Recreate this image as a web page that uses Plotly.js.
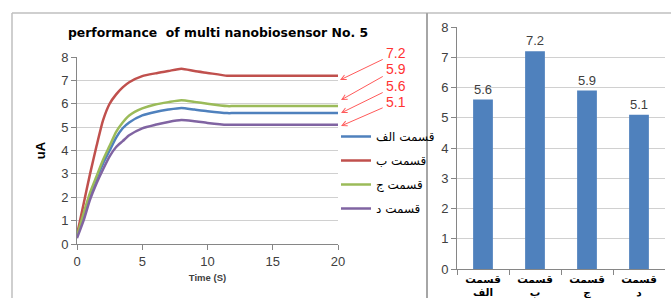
<!DOCTYPE html>
<html><head><meta charset="utf-8">
<script src="https://cdn.plot.ly/plotly-3.0.1.min.js"></script>
<style>html,body{margin:0;padding:0;background:#fff}#c{width:671px;height:298px}</style>
</head><body><div id="c"></div>
<script>
// ---- data ----
const chartTitle = 'performance  of multi nanobiosensor No. 5';
const seriesNames = ['قسمت الف', 'قسمت ب', 'قسمت ج', 'قسمت د'];
const barLabels = ['قسمت<br>الف', 'قسمت<br>ب', 'قسمت<br>ج', 'قسمت<br>د'];
const time = [0, 0.5, 1, 1.5, 2, 2.5, 3, 3.5, 4, 5, 6, 7, 8, 9, 10, 11.5, 12, 14, 16, 18, 20];
const seriesA = [0.35, 1.25, 2.1, 2.8, 3.45, 4.0, 4.55, 4.95, 5.2, 5.5, 5.65, 5.75, 5.82, 5.75, 5.68, 5.6, 5.6, 5.6, 5.6, 5.6, 5.6];
const seriesB = [0.4, 1.7, 3.0, 4.2, 5.3, 6.0, 6.4, 6.7, 6.92, 7.18, 7.3, 7.4, 7.5, 7.4, 7.32, 7.2, 7.2, 7.2, 7.2, 7.2, 7.2];
const seriesC = [0.35, 1.3, 2.2, 2.9, 3.6, 4.2, 4.8, 5.2, 5.5, 5.8, 5.97, 6.07, 6.15, 6.08, 6.0, 5.9, 5.9, 5.9, 5.9, 5.9, 5.9];
const seriesD = [0.25, 1.0, 1.9, 2.6, 3.2, 3.75, 4.15, 4.4, 4.65, 4.95, 5.1, 5.22, 5.3, 5.25, 5.18, 5.1, 5.1, 5.1, 5.1, 5.1, 5.1];
const finalValues = [5.6, 7.2, 5.9, 5.1];
const annotOrder = [1, 2, 0, 3]; // 7.2, 5.9, 5.6, 5.1 from top
// ---- styling ----
const W = 671, H = 298;
const px = v => v / W, py = v => 1 - v / H;
const colors = ['#4F81BD', '#C0504D', '#9BBB59', '#8064A2'];
const allSeries = [seriesA, seriesB, seriesC, seriesD];
const font = 'Liberation Sans, Arial, sans-serif';
const arFont = 'DejaVu Sans, sans-serif';

const traces = allSeries.map((s, i) => ({
  type: 'scatter', mode: 'lines', x: time, y: s, name: seriesNames[i],
  line: {color: colors[i], width: 2.5, shape: 'spline', smoothing: 0.6},
  xaxis: 'x', yaxis: 'y', legendgroup: 'g' + i
}));
traces.push({
  type: 'bar', x: barLabels, y: finalValues, xaxis: 'x2', yaxis: 'y2',
  marker: {color: '#4F81BD'}, showlegend: false,
  text: finalValues.map(v => v.toFixed(1)), textposition: 'outside',
  textfont: {family: font, size: 13, color: '#404040'}, cliponaxis: false
});

// arrow heads and text positions (pixels)
const heads = [[340, 80], [341, 100], [341, 113], [341, 126]];
const texts = [[396, 53], [396, 69], [396, 86], [396, 102]];
const annotations = annotOrder.map((k, j) => ({
  xref: 'paper', yref: 'paper', x: px(heads[j][0]), y: py(heads[j][1]),
  ax: texts[j][0] - heads[j][0], ay: texts[j][1] - heads[j][1],
  text: finalValues[k].toFixed(1), showarrow: true, arrowhead: 5, arrowsize: 1,
  arrowwidth: 1, arrowcolor: '#FF5A5A', standoff: 0, startstandoff: 2,
  font: {family: font, size: 14, color: '#FF3333'}
}));

const shapes = [
  {type: 'line', xref: 'paper', yref: 'paper', x0: px(12), x1: px(12), y0: py(13), y1: py(300), line: {color: '#BFBFBF', width: 1.5}},
  {type: 'line', xref: 'paper', yref: 'paper', x0: px(12), x1: px(671), y0: py(13), y1: py(13), line: {color: '#BFBFBF', width: 1.5}},
  {type: 'line', xref: 'paper', yref: 'paper', x0: px(427), x1: px(427), y0: py(13), y1: py(300), line: {color: '#A6A6A6', width: 2}}
];

const layout = {
  width: W, height: H, margin: {l: 0, r: 0, t: 0, b: 0},
  paper_bgcolor: '#fff', plot_bgcolor: '#fff',
  title: {text: '<b>' + chartTitle + '</b>', x: px(218), xanchor: 'center', y: py(33), yanchor: 'middle',
    font: {family: 'DejaVu Sans, sans-serif', size: 12.4, color: '#000'}},
  xaxis: {domain: [px(77), px(338)], range: [0, 20], tickvals: [0, 5, 10, 15, 20],
    showgrid: false, zeroline: false, showline: true, linecolor: '#868686', linewidth: 1,
    ticks: 'outside', ticklen: 5, tickcolor: '#868686',
    tickfont: {family: font, size: 13, color: '#404040'},
    title: {text: '<b>Time (S)</b>', font: {family: font, size: 9.5, color: '#404040'}, standoff: 6}},
  yaxis: {domain: [py(244), py(57)], range: [0, 8], dtick: 1,
    showgrid: true, gridcolor: '#D0D0D0', gridwidth: 1, zeroline: false,
    showline: true, linecolor: '#868686', ticks: 'outside', ticklen: 5, tickcolor: '#868686',
    tickfont: {family: font, size: 13, color: '#404040'},
    title: {text: '<b>uA</b>', font: {family: font, size: 13, color: '#000'}, standoff: 12}},
  xaxis2: {domain: [px(457), px(665)], anchor: 'y2', range: [-0.5, 3.5],
    showgrid: false, zeroline: false, showline: true, linecolor: '#868686',
    ticks: 'outside', tickson: 'boundaries', ticklen: 5, tickcolor: '#868686',
    tickfont: {family: arFont, size: 10.5, color: '#000', weight: 'bold'}},
  yaxis2: {domain: [py(269), py(27)], anchor: 'x2', range: [0, 8], dtick: 1,
    showgrid: true, gridcolor: '#D0D0D0', zeroline: false,
    showline: true, linecolor: '#868686', ticks: 'outside', ticklen: 5, tickcolor: '#868686',
    tickfont: {family: font, size: 13, color: '#404040'}},
  bargap: 0.62,
  showlegend: true,
  legend: {x: px(336), y: py(122), xanchor: 'left', yanchor: 'top', traceorder: 'grouped',
    tracegroupgap: 5, bgcolor: 'rgba(0,0,0,0)', itemwidth: 30,
    font: {family: arFont, size: 12, color: '#000'}},
  annotations: annotations,
  shapes: shapes
};
Plotly.newPlot('c', traces, layout, {staticPlot: true, displayModeBar: false});
</script></body></html>
